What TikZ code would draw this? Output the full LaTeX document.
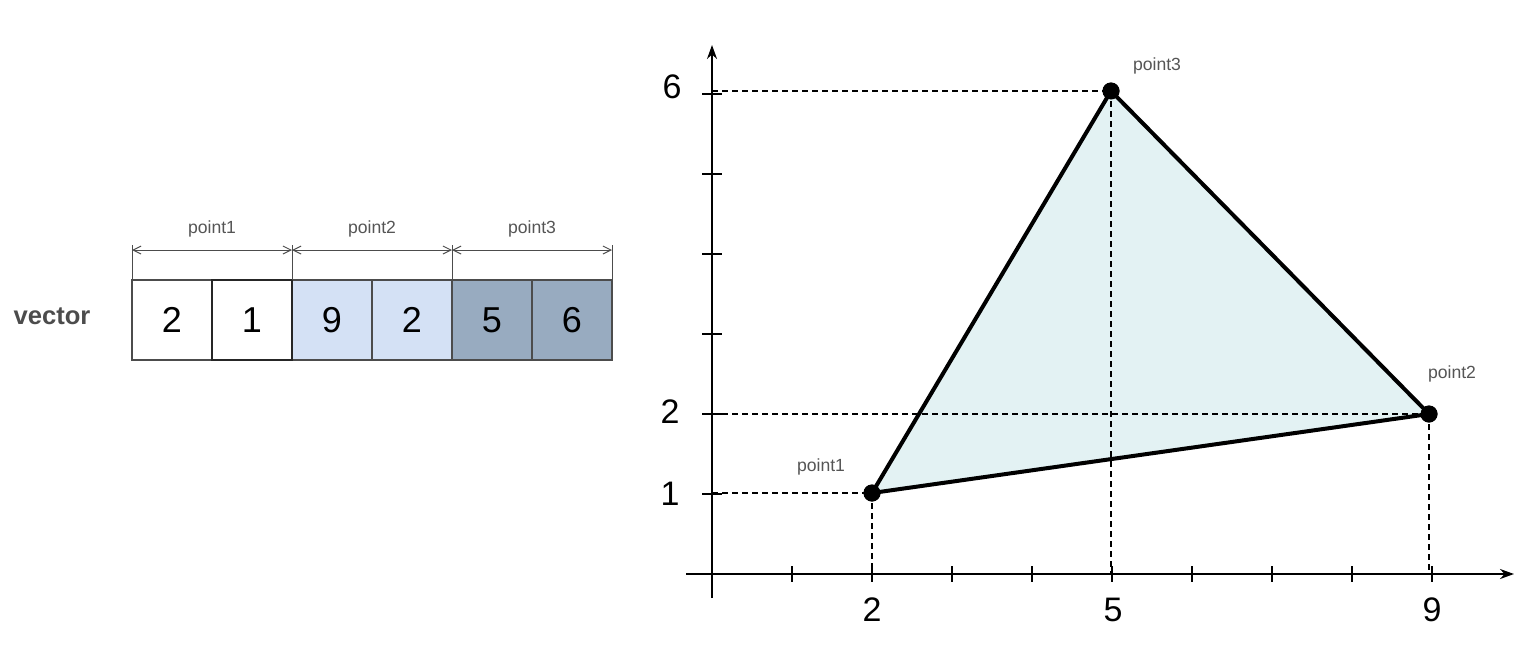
\documentclass[tikz,border=0pt]{standalone}
\usepackage{fontspec}
\setmainfont{Liberation Sans}
\usetikzlibrary{arrows.meta,positioning}

\definecolor{cellblue}{HTML}{D4E1F5}
\definecolor{cellslate}{HTML}{98ABC0}
\definecolor{trifill}{HTML}{E3F2F3}
\definecolor{labelgrey}{HTML}{555555}

\begin{document}
\begin{tikzpicture}[x=0.5pt, y=-0.5pt,
	cell/.style={draw=black!70, line width=1pt, minimum size=40pt, inner sep=0pt, outer sep=0pt, font=\fontsize{18}{18}\selectfont},
	brace/.style={draw=black!70, line width=0.5pt},
	ptlabel/.style={text=labelgrey, font=\fontsize{8.8}{10}\selectfont},
	numlabel/.style={font=\fontsize{17}{17}\selectfont},
	dot/.style={circle, fill=black, minimum size=8.5pt, inner sep=0pt},
	guide/.style={line width=1.1pt, dash pattern=on 3pt off 2pt},
	axis/.style={line width=1pt, -{Stealth[length=7pt, width=5pt]}}
]
	\useasboundingbox (0,0) rectangle (1524,654);

	% the vector
	\node [font=\bfseries\fontsize{12.8}{14}\selectfont, text=black!70] (vec) at (52,316) {vector};
	\node [cell] (c1) at (172,320) {2};
	\node [cell, right=0pt of c1] (c2) {1};
	\node [cell, right=0pt of c2, fill=cellblue] (c3) {9};
	\node [cell, right=0pt of c3, fill=cellblue] (c4) {2};
	\node [cell, right=0pt of c4, fill=cellslate] (c5) {5};
	\node [cell, right=0pt of c5, fill=cellslate] (c6) {6};
	% restroke the second cell, it is darker
	\draw [line width=1pt, black!85] (c2.north west) rectangle (c2.south east);

	\foreach \cell in {c1,c3,c5}{%
		\draw [brace] (\cell.north west) -- ++(0,-35);
	}
	\draw [brace] (c6.north east) -- ++(0,-35);
	\foreach \a/\b/\name in {c1/c2/point1, c3/c4/point2, c5/c6/point3}{%
		\draw [brace, {Straight Barb[length=4pt, width=4pt]}-{Straight Barb[length=4pt, width=4pt]}] ([yshift=15pt] \a.north west) -- ([yshift=15pt] \b.north east);
		\node [ptlabel] at ([yshift=25.5pt] \a.north east) {\name};
	}

	% the plane
	\coordinate (O) at (712,574);
	\node [dot] (p1) at (872,493) {};
	\node [dot] (p2) at (1429,414) {};
	\node [dot] (p3) at (1111,91) {};

	\fill [trifill] (p1.center) -- (p2.center) -- (p3.center) -- cycle;

	\foreach \p in {p1,p2,p3}{%
		\draw [guide] (O |- \p.center) -- (\p.center);
		\draw [guide] (\p.center) -- (\p.center |- O);
	}

	\draw [line width=2pt, line join=round] (p1.center) -- (p2.center) -- (p3.center) -- cycle;
	\node [dot] at (p1) {};
	\node [dot] at (p2) {};
	\node [dot] at (p3) {};

	\draw [axis] (686,574) -- (1514,574);
	\draw [axis] (712,598) -- (712,45);
	\foreach \i in {1,...,9}{%
		\draw [line width=0.6pt] ([xshift=\i*40pt] O) ++(0,-8) -- ++(0,16);
	}
	\foreach \j in {1,...,6}{%
		\draw [line width=0.6pt] ([yshift=\j*40pt] O) ++(-10,0) -- ++(20,0);
	}

	\node [numlabel] (x2) at (872,610) {2};
	\node [numlabel] (x5) at (1113,610) {5};
	\node [numlabel] (x9) at (1432,610) {9};
	\node [numlabel] (y1) at (670,494) {1};
	\node [numlabel] (y2) at (670,412) {2};
	\node [numlabel] (y6) at (672,87) {6};

	\node [ptlabel] (l1) at (821,467) {point1};
	\node [ptlabel] (l2) at (1452,374) {point2};
	\node [ptlabel] (l3) at (1157,66) {point3};
\end{tikzpicture}
\end{document}
